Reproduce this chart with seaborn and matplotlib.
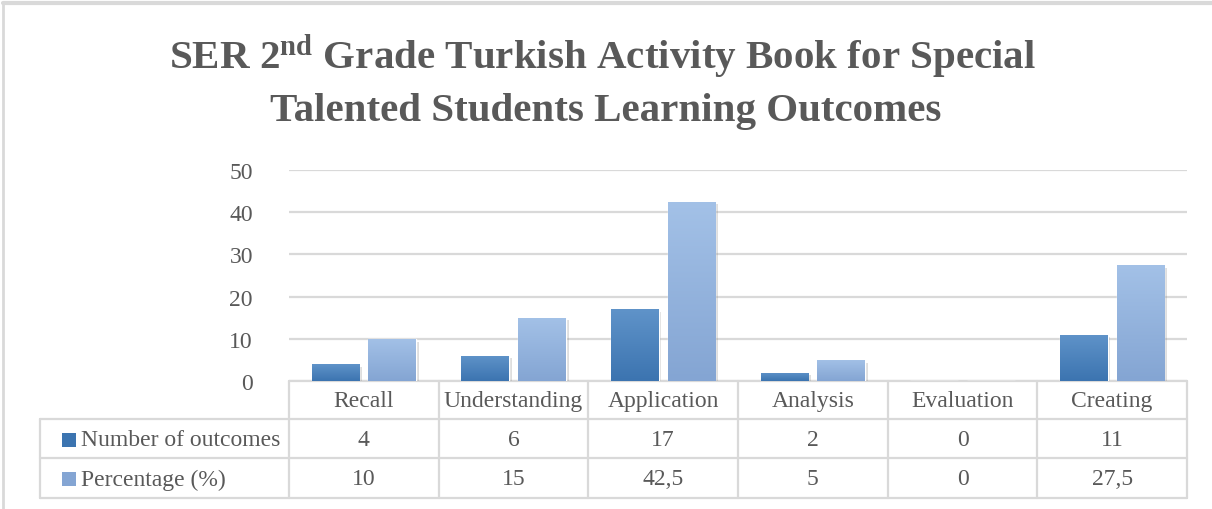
import numpy as np
import pandas as pd
import seaborn as sns
import matplotlib.pyplot as plt
from matplotlib.patches import Rectangle
from matplotlib.lines import Line2D
import matplotlib.transforms as mtransforms
import matplotlib.patheffects as pe
from matplotlib.colors import LinearSegmentedColormap

categories = ["Recall", "Understanding", "Application", "Analysis", "Evaluation", "Creating"]
counts = [4, 6, 17, 2, 0, 11]
percentages = [10, 15, 42.5, 5, 0, 27.5]
series_names = ["Number of outcomes", "Percentage (%)"]
yticks = [0, 10, 20, 30, 40, 50]

TEXT = "#595959"
GRID = "#D9D9D9"
# (top, bottom) colours of the two gradients
GRADS = [("#5F93C9", "#3C74B0"), ("#A3C1E7", "#84A5D3")]

df = pd.DataFrame({
    "category": categories * 2,
    "value": counts + percentages,
    "series": [series_names[0]] * 6 + [series_names[1]] * 6,
})

sns.set_style("white")
plt.rcParams["font.family"] = ["Liberation Serif", "DejaVu Serif"]
plt.rcParams["mathtext.fontset"] = "custom"
plt.rcParams["mathtext.bf"] = "Liberation Serif:bold"
plt.rcParams["mathtext.rm"] = "Liberation Serif:bold"

W, H = 1212, 510
FS = 17
fig = plt.figure(figsize=(W / 100, H / 100), dpi=100)
ax = fig.add_axes([289 / W, 1 - 382 / H, 898 / W, 211 / H])

sns.barplot(data=df, x="category", y="value", hue="series", order=categories,
            palette=[GRADS[0][1], GRADS[1][1]], width=0.76, gap=0.16,
            legend=False, ax=ax, zorder=3)

ax.set_ylim(0, 50)
ax.set_xlim(-0.5, 5.5)
ax.set_yticks(yticks)
ax.yaxis.grid(True, color=GRID, lw=1.6, zorder=0)
ax.set_axisbelow(True)
for s in ax.spines.values():
    s.set_visible(False)
ax.tick_params(axis="y", length=0, pad=26, labelsize=FS, labelcolor=TEXT)
ax.tick_params(axis="x", length=0, labelbottom=False)
ax.set_xlabel("")
ax.set_ylabel("")

# gradient fill + soft shadow for each bar
n = len(categories)
for i, bar in enumerate(ax.patches[:2 * n]):
    h = bar.get_height()
    if h <= 0:
        continue
    top, bot = GRADS[i // n]
    cmap = LinearSegmentedColormap.from_list("g", [bot, top])
    x0, w = bar.get_x(), bar.get_width()
    bar.set_path_effects([pe.SimplePatchShadow(offset=(2, -2), alpha=0.25, shadow_rgbFace="#7f7f7f"),
                          pe.Normal()])
    grad = np.linspace(0, 1, 100).reshape(-1, 1)
    im = ax.imshow(grad, cmap=cmap, origin="lower", aspect="auto",
                   extent=(x0, x0 + w, 0, h), zorder=4)
    im.set_clip_path(bar)
ax.set_xlim(-0.5, 5.5)
ax.set_ylim(0, 50)

# data table under the plot
def ay(py):
    return (382 - py) / 211

def axx(px):
    return (px - 289) / 898

blend = mtransforms.blended_transform_factory(ax.transData, ax.transAxes)
lkw = dict(color=GRID, lw=1.6, clip_on=False, zorder=1)
left = axx(40)
ax.add_line(Line2D([0, 1], [0, 0], transform=ax.transAxes, **lkw))
for py in (420, 459, 499):
    ax.add_line(Line2D([left, 1], [ay(py), ay(py)], transform=ax.transAxes, **lkw))
ax.add_line(Line2D([left, left], [ay(420), ay(499)], transform=ax.transAxes, **lkw))
for k in range(n + 1):
    ax.add_line(Line2D([k - 0.5, k - 0.5], [0, ay(499)], transform=blend, **lkw))

def fmt(v):
    return f"{v:g}".replace(".", ",")

for k, cat in enumerate(categories):
    ax.text(k, ay(402), cat, transform=blend, ha="center", va="center",
            fontsize=FS, color=TEXT, clip_on=False)
    ax.text(k, ay(441), fmt(counts[k]), transform=blend, ha="center", va="center",
            fontsize=FS, color=TEXT, clip_on=False)
    ax.text(k, ay(480), fmt(percentages[k]), transform=blend, ha="center", va="center",
            fontsize=FS, color=TEXT, clip_on=False)

for r, (name, py) in enumerate(zip(series_names, (441, 480))):
    top, bot = GRADS[r]
    ax.add_patch(Rectangle((axx(62), ay(py + 7)), 14 / 898, 14 / 211, transform=ax.transAxes,
                           facecolor=bot, edgecolor="none", clip_on=False))
    ax.text(axx(81), ay(py), name, transform=ax.transAxes, ha="left", va="center",
            fontsize=FS, color=TEXT, clip_on=False)

# chart frame (top and left edges visible)
fig.add_artist(Line2D([3 / W, 1], [1 - 4 / H, 1 - 4 / H], transform=fig.transFigure,
                      color=GRID, lw=3))
fig.add_artist(Line2D([3 / W, 3 / W], [0, 1 - 4 / H], transform=fig.transFigure,
                      color=GRID, lw=2))

fig.text(603 / W, 1 - 57 / H, r"SER $\mathbf{2^{nd}}$ Grade Turkish Activity Book for Special",
         ha="center", va="center", fontsize=29.5, fontweight="bold", color=TEXT)
fig.text(606 / W, 1 - 112 / H, "Talented Students Learning Outcomes",
         ha="center", va="center", fontsize=29.5, fontweight="bold", color=TEXT)

fig.savefig("out.png", dpi=100, facecolor="white")
